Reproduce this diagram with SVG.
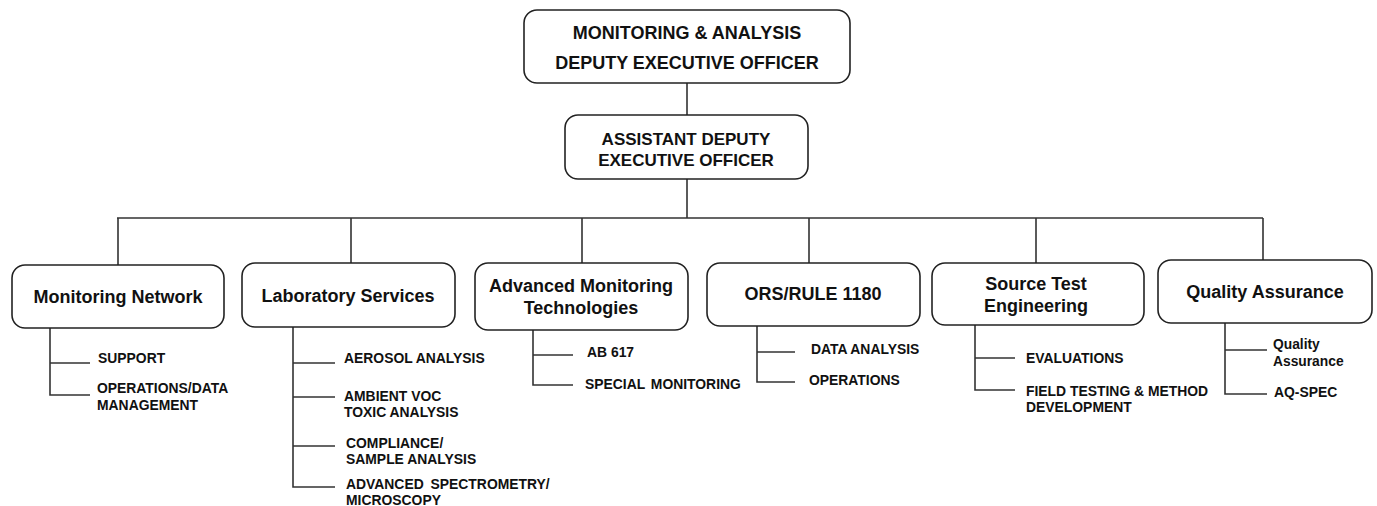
<svg xmlns="http://www.w3.org/2000/svg" width="1377" height="506" viewBox="0 0 1377 506">
<style>
.box{fill:#fff;stroke:#222;stroke-width:1.6}
.ln{fill:none;stroke:#333;stroke-width:1.6}
text{font-family:"Liberation Sans",Arial,sans-serif;font-weight:bold;fill:#111}
.t1{font-size:18px;text-anchor:middle}
.t2{font-size:17px;text-anchor:middle}
.s{font-size:13.9px}
.q{font-size:13.8px}
</style>
<rect width="1377" height="506" fill="#fff"/>
<g id="connectors">
<path class="ln" d="M687 83V115M687 179V218M117 218H1263M118 218V265M351 218V263M582 218V263M809 218V263M1036 218V263M1263 218V260"/>
<path class="ln" d="M50 328V395H90M50 363H90"/>
<path class="ln" d="M293 327V487H335M293 363H335M293 397H335M293 446H335"/>
<path class="ln" d="M533 330V385H573M533 355H573"/>
<path class="ln" d="M757 326V382H795M757 352H795"/>
<path class="ln" d="M975 325V390H1015M975 358H1015"/>
<path class="ln" d="M1225 323V394H1267M1225 350H1267"/>
</g>
<g id="deo">
<rect class="box" x="524" y="10" width="326" height="73" rx="13"/>
<text class="t1" x="687" y="39">MONITORING &amp; ANALYSIS</text>
<text class="t1" x="687" y="69">DEPUTY EXECUTIVE OFFICER</text>
</g>
<g id="adeo">
<rect class="box" x="565" y="115" width="243" height="64" rx="13"/>
<text class="t2" x="686" y="145">ASSISTANT DEPUTY</text>
<text class="t2" x="686" y="166">EXECUTIVE OFFICER</text>
</g>
<g id="monitoring-network">
<rect class="box" x="12" y="265" width="212" height="63" rx="13"/>
<text class="t1" x="118" y="303">Monitoring Network</text>
<text class="s" x="98" y="363">SUPPORT</text>
<text class="s" x="97" y="393">OPERATIONS/DATA</text>
<text class="s" x="97" y="410">MANAGEMENT</text>
</g>
<g id="laboratory-services">
<rect class="box" x="242" y="263" width="213" height="64" rx="13"/>
<text class="t1" x="348" y="302">Laboratory Services</text>
<text class="s" x="344" y="363">AEROSOL ANALYSIS</text>
<text class="s" x="344" y="401">AMBIENT VOC</text>
<text class="s" x="344" y="417">TOXIC ANALYSIS</text>
<text class="s" x="346" y="448">COMPLIANCE/</text>
<text class="s" x="346" y="464">SAMPLE ANALYSIS</text>
<text class="s" x="346" y="489" word-spacing="3">ADVANCED SPECTROMETRY/</text>
<text class="s" x="346" y="505">MICROSCOPY</text>
</g>
<g id="advanced-monitoring">
<rect class="box" x="475" y="263" width="213" height="67" rx="13"/>
<text class="t1" x="581" y="292">Advanced Monitoring</text>
<text class="t1" x="581" y="314">Technologies</text>
<text class="s" x="587" y="357">AB 617</text>
<text class="s" x="585" y="389" word-spacing="2">SPECIAL MONITORING</text>
</g>
<g id="ors-rule-1180">
<rect class="box" x="707" y="263" width="213" height="63" rx="13"/>
<text class="t1" x="813" y="300">ORS/RULE 1180</text>
<text class="s" x="811" y="354">DATA ANALYSIS</text>
<text class="s" x="809" y="385">OPERATIONS</text>
</g>
<g id="source-test">
<rect class="box" x="932" y="263" width="212" height="62" rx="13"/>
<text class="t1" x="1036" y="290">Source Test</text>
<text class="t1" x="1036" y="312">Engineering</text>
<text class="s" x="1026" y="363">EVALUATIONS</text>
<text class="s" x="1026" y="396">FIELD TESTING &amp; METHOD</text>
<text class="s" x="1026" y="412">DEVELOPMENT</text>
</g>
<g id="quality-assurance">
<rect class="box" x="1158" y="260" width="214" height="63" rx="13"/>
<text class="t1" x="1265" y="298">Quality Assurance</text>
<text class="q" x="1273" y="349">Quality</text>
<text class="q" x="1273" y="366">Assurance</text>
<text class="s" x="1274" y="397">AQ-SPEC</text>
</g>
</svg>
